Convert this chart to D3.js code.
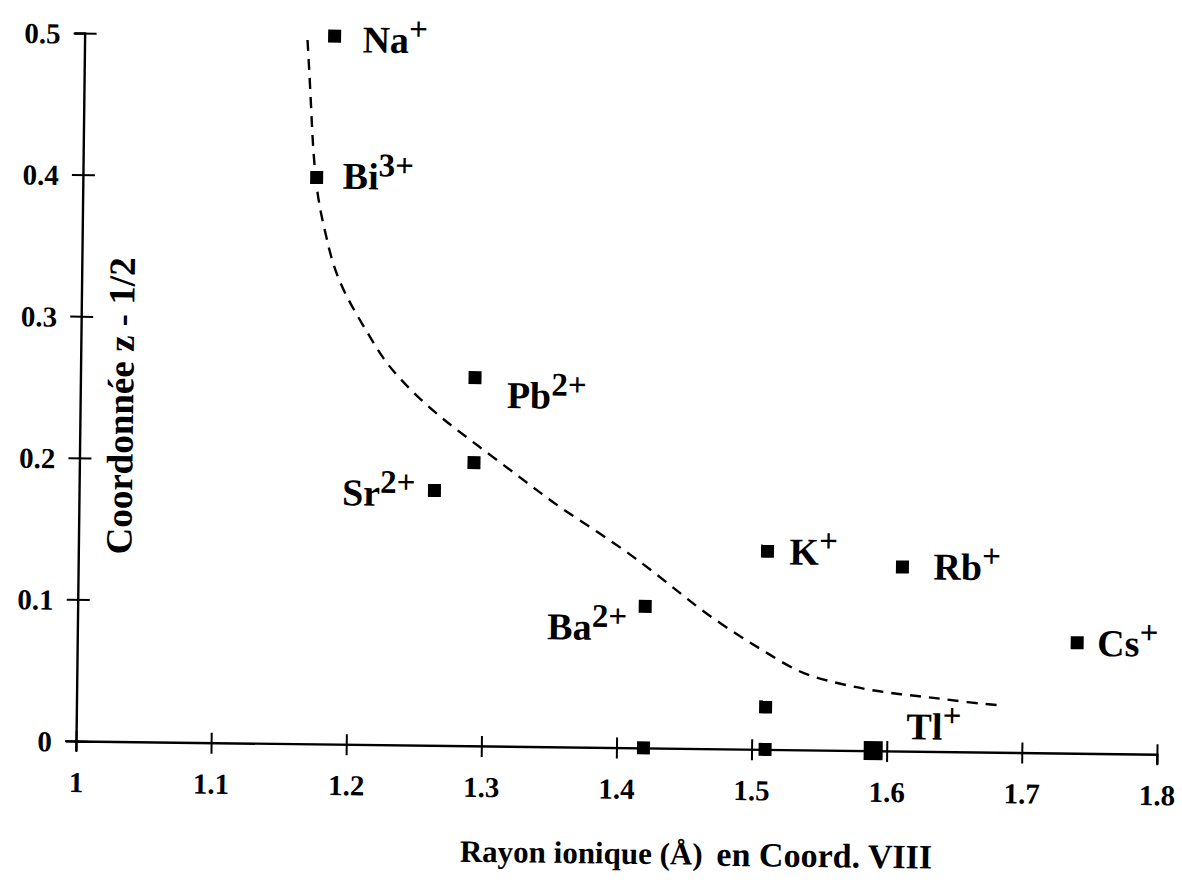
<!DOCTYPE html>
<html>
<head>
<meta charset="utf-8">
<script src="https://cdn.jsdelivr.net/npm/d3@7"></script>
<style>
  html, body { margin: 0; padding: 0; background: #fff; }
  svg { display: block; }
  text { font-family: "Liberation Serif", "Times New Roman", serif; font-weight: bold; fill: #000; }
</style>
</head>
<body>
<svg id="chart" width="1182" height="883"></svg>
<script>
// Cations: ionic radius (Å, coordination VIII) and z - 1/2 coordinate
const ions      = ["Na", "Bi", "Pb", "Sr", "Ba", "K", "Rb", "Cs", "Tl"];
const charges   = ["+", "3+", "2+", "2+", "2+", "+", "+", "+", "+"];
const ionRadius = [1.185, 1.173, 1.292, 1.263, 1.42, 1.51, 1.61, 1.74, 1.59];
const ionZ      = [0.50, 0.40, 0.26, 0.18, 0.10, 0.14, 0.13, 0.078, 0.0];

// Additional unlabelled measurements
const extraRadius = [1.292, 1.51, 1.42, 1.51];
const extraZ      = [0.20, 0.03, 0.0, 0.0];

// Trend curve (dashed)
const trendRadius = [1.165, 1.168, 1.170, 1.174, 1.180, 1.186, 1.197, 1.212, 1.224, 1.237,
                     1.254, 1.272, 1.289, 1.319, 1.339, 1.356, 1.386, 1.411, 1.436, 1.461,
                     1.491, 1.511, 1.535, 1.560, 1.585, 1.610, 1.634, 1.659, 1.686];
const trendZ      = [0.497, 0.455, 0.419, 0.384, 0.361, 0.337, 0.314, 0.291, 0.272, 0.258,
                     0.242, 0.228, 0.216, 0.195, 0.181, 0.169, 0.151, 0.135, 0.117, 0.098,
                     0.079, 0.068, 0.054, 0.048, 0.043, 0.040, 0.038, 0.035, 0.033];

// Axis ticks
const xTicks = [1, 1.1, 1.2, 1.3, 1.4, 1.5, 1.6, 1.7, 1.8];
const yTicks = [0, 0.1, 0.2, 0.3, 0.4, 0.5];

// ---- layout ----
const origin = { x: 76, y: 741 };
const plotW = 1081, plotH = 708;
const tilt = 0.7; // degrees

const svg = d3.select("#chart");
svg.append("rect").attr("width", 1182).attr("height", 883).attr("fill", "#fff");

const g = svg.append("g")
  .attr("transform", `translate(${origin.x},${origin.y}) rotate(${tilt})`);

const x = d3.scaleLinear().domain([1, 1.8]).range([0, plotW]);
const y = d3.scaleLinear().domain([0, 0.5]).range([0, -plotH]);

// X axis
const xAxis = g.append("g")
  .call(d3.axisBottom(x).tickValues(xTicks).tickSizeOuter(0).tickSize(10)
        .tickFormat(d => d3.format("")(d)));
xAxis.select(".domain").attr("stroke", "#000").attr("stroke-width", 2.4);
xAxis.selectAll(".tick line").attr("y1", -10).attr("y2", 11)
  .attr("stroke", "#000").attr("stroke-width", 2);
xAxis.selectAll(".tick text").attr("y", 51).attr("dy", 0)
  .style("font-size", "29px").attr("fill", "#000");

// Y axis
const yAxis = g.append("g")
  .call(d3.axisLeft(y).tickValues(yTicks).tickSizeOuter(0).tickSize(10)
        .tickFormat(d => d3.format("")(d)));
yAxis.select(".domain").attr("stroke", "#000").attr("stroke-width", 2.4);
yAxis.selectAll(".tick line").attr("x1", -11).attr("x2", 12)
  .attr("stroke", "#000").attr("stroke-width", 2);
yAxis.selectAll(".tick text").attr("x", -24).attr("dy", "0.35em")
  .style("font-size", "29px").attr("fill", "#000");

// Axis titles
g.append("text")
  .attr("transform", `translate(53,${y(0.237)}) rotate(-90)`)
  .attr("text-anchor", "middle")
  .style("font-size", "37px")
  .text("Coordonnée z - 1/2");

g.append("text")
  .attr("x", x(1.285)).attr("y", 116)
  .style("font-size", "31px")
  .text("Rayon ionique (Å)");
g.append("text")
  .attr("x", x(1.475)).attr("y", 117)
  .style("font-size", "34px")
  .text("en Coord. VIII");

// Dashed trend curve
const trend = trendRadius.map((r, i) => [r, trendZ[i]]);
g.append("path")
  .datum(trend)
  .attr("fill", "none")
  .attr("stroke", "#000")
  .attr("stroke-width", 2.4)
  .attr("stroke-dasharray", "11,8")
  .attr("d", d3.line().x(d => x(d[0])).y(d => y(d[1])).curve(d3.curveBasis));

// Markers
const points = ions.map((ion, i) => ({ ion, charge: charges[i], r: ionRadius[i], z: ionZ[i] }));
const extras = extraRadius.map((r, i) => ({ r, z: extraZ[i] }));
const size = d => (d.ion === "Tl" ? 19 : 13);

g.selectAll("rect.extra").data(extras).join("rect")
  .attr("class", "extra")
  .attr("x", d => x(d.r) - 6.5).attr("y", d => y(d.z) - 6.5)
  .attr("width", 13).attr("height", 13).attr("fill", "#000");

g.selectAll("rect.ion").data(points).join("rect")
  .attr("class", "ion")
  .attr("x", d => x(d.r) - size(d) / 2).attr("y", d => y(d.z) - size(d) / 2)
  .attr("width", size).attr("height", size).attr("fill", "#000");

// Ion labels: offset from marker centre, anchor
const labelOffset = {
  Na: [28, 16, "start"], Bi: [26, 11, "start"], Pb: [32, 30, "start"],
  Sr: [-19, 16, "end"],  Ba: [-18, 34, "end"],  K:  [22, 13, "start"],
  Rb: [31, 12, "start"], Cs: [20, 13, "start"], Tl: [33, -12, "start"]
};

const labels = g.selectAll("text.ion").data(points).join("text")
  .attr("class", "ion")
  .attr("x", d => x(d.r) + labelOffset[d.ion][0])
  .attr("y", d => y(d.z) + labelOffset[d.ion][1])
  .attr("text-anchor", d => labelOffset[d.ion][2])
  .style("font-size", "38px");
labels.append("tspan").text(d => d.ion);
labels.append("tspan")
  .attr("dy", -13)
  .style("font-size", "33px")
  .text(d => d.charge);
</script>
</body>
</html>
